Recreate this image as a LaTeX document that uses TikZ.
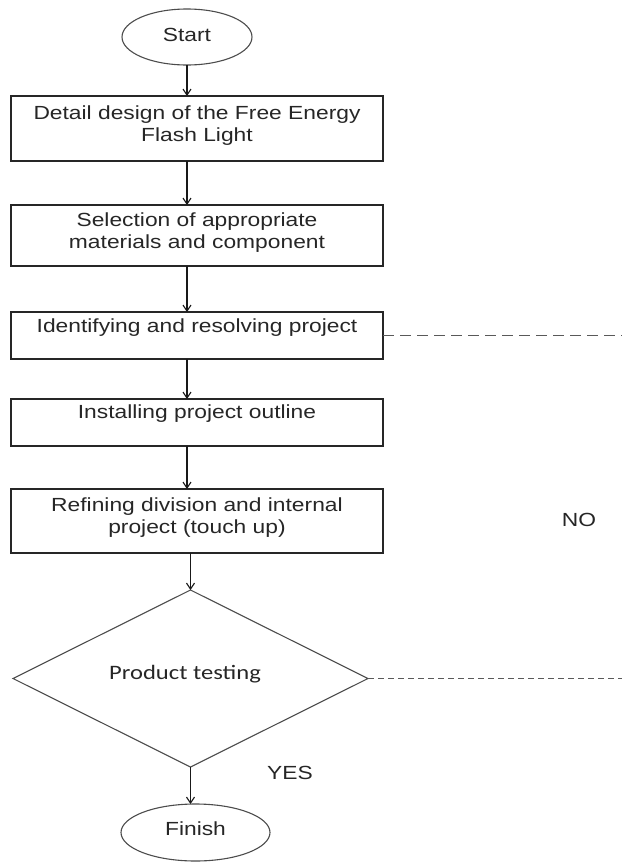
\documentclass[tikz,border=0pt]{standalone}
\usepackage{fontspec}
\setmainfont{Liberation Sans}[FakeStretch=1.2]
\newfontfamily\calibrifont{Carlito}[FakeStretch=1.2]
\usetikzlibrary{shapes.geometric,arrows.meta}

\begin{document}
\begin{tikzpicture}[x=1pt,y=-1pt,
  every node/.style={inner sep=0pt, outer sep=0pt},
  stepbox/.style={draw=black!85, line width=1.3pt, minimum width=372pt},
  term/.style={ellipse, draw=black!70, line width=1.1pt},
  txt/.style={text=black!85, font=\fontsize{19}{21.5}\selectfont, align=center},
  flow/.style={draw=black!90, line width=1.1pt, -{Straight Barb[length=6pt,width=8pt]}},
  loopback/.style={draw=black!65, line width=1.1pt},
]
\useasboundingbox (0,0) rectangle (622,863);

% terminals
\node[term, minimum width=130pt, minimum height=56pt] (start) at (187,37) {};
\node[txt] (startt) at (187,34.5) {Start};

% process steps
\node[stepbox, minimum height=65pt] (b1) at (197,128.5) {};
\node[txt] (b1t) at (197,125.5) {Detail design of the Free Energy\\Flash Light};

\node[stepbox, minimum height=61pt] (b2) at (197,235.5) {};
\node[txt] (b2t) at (197,232.5) {Selection of appropriate\\materials and component};

\node[stepbox, minimum height=47pt] (b3) at (197,335.5) {};
\node[txt] (b3t) at (197,328) {Identifying and resolving project};

\node[stepbox, minimum height=47pt] (b4) at (197,422.5) {};
\node[txt] (b4t) at (197,414) {Installing project outline};

\node[stepbox, minimum height=64pt] (b5) at (197,521) {};
\node[txt] (b5t) at (197,517.5) {Refining division and internal\\project (touch up)};

% decision
\node[diamond, draw=black!70, line width=1.1pt, minimum width=355pt, minimum height=177pt] (dia) at (190.5,678.5) {};
\node[txt, font=\calibrifont\fontsize{20.5}{23}\selectfont] (diat) at (185,674) {Product testing};

\node[term, minimum width=149pt, minimum height=57pt] (fin) at (195.5,832.5) {};
\node[txt] (fint) at (195.5,829) {Finish};

% branch labels
\node[txt] (no) at (579,520) {NO};
\node[txt] (yes) at (290,773) {YES};

% main flow
\draw[flow] (start.south) -- (start.south |- b1.north);
\draw[flow] (start.south |- b1.south) -- (start.south |- b2.north);
\draw[flow] (start.south |- b2.south) -- (start.south |- b3.north);
\draw[flow] (start.south |- b3.south) -- (start.south |- b4.north);
\draw[flow] (start.south |- b4.south) -- (start.south |- b5.north);
\draw[flow] (dia.north |- b5.south) -- (dia.north);
\draw[flow] (dia.south) -- (dia.south |- fin.north);

% return path (NO)
\coordinate (ret3) at (622,335.5);
\coordinate (retd) at (622,678.5);
\draw[loopback, dash pattern=on 11pt off 6pt] (b3.east) -- (ret3);
\draw[loopback, dash pattern=on 6pt off 4pt] (dia.east) -- (retd);
\end{tikzpicture}
\end{document}
